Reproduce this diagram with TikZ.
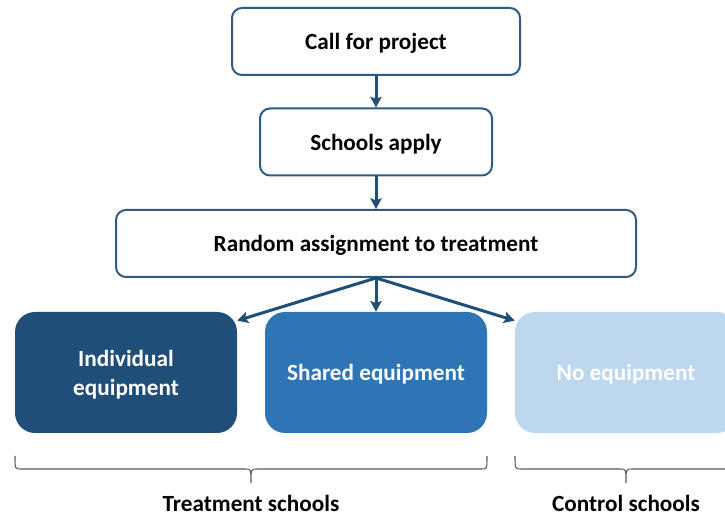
\documentclass[tikz,border=0pt]{standalone}
\usepackage{fontspec}
\setmainfont{Carlito}
\usetikzlibrary{arrows.meta}

\definecolor{navy}{HTML}{1F4E79}
\definecolor{edge}{HTML}{2E5B86}
\definecolor{midblue}{HTML}{2E75B6}
\definecolor{paleblue}{HTML}{BDD7EE}

\tikzset{
  stepbox/.style={draw=edge, line width=1.5pt, rounded corners=7.5pt, fill=white,
    minimum height=50.25pt, inner sep=0pt, text depth=0pt,
    font=\bfseries\fontsize{17.4}{21.75}\selectfont},
  groupbox/.style={rounded corners=15pt, minimum width=166.5pt, minimum height=90.75pt,
    inner sep=0pt, text depth=0pt, align=center, text=white,
    font=\bfseries\fontsize{17.4}{21.75}\selectfont},
  flow/.style={draw=navy, line width=2.25pt, -{Stealth[length=8pt,width=8.5pt,inset=1.5pt]}},
  brace/.style={draw=black!65, line width=0.8pt},
  grouplabel/.style={font=\bfseries\fontsize{17.4}{21.75}\selectfont}
}

\begin{document}
\begin{tikzpicture}[x=0.75pt, y=-0.75pt]
\useasboundingbox (0, 0) rectangle (725, 516);
\clip (0, 0) rectangle (725, 516);

\node[stepbox, minimum width=216pt] (call) at (376, 41.5) {Call for project};
\node[stepbox, minimum width=174pt] (apply) at (376, 142) {Schools apply};
\node[stepbox, minimum width=390pt] (random) at (376, 243.5) {Random assignment to treatment};

\node[groupbox, fill=navy] (indiv) at (126, 372.5) {Individual\\equipment};
\node[groupbox, fill=midblue] (shared) at (376, 372.5) {Shared equipment};
\node[groupbox, fill=paleblue] (none) at (626, 372.5) {No equipment};

\draw[flow] (call) -- (apply);
\draw[flow] (apply) -- (random);
\draw[flow] (random.south) -- (indiv.25);
\draw[flow] (random.south) -- (shared);
\draw[flow] (random.south) -- (none.155);

% braces under the groups
\foreach \l/\r/\m in {15/487/251, 515/737/626}
  \draw[brace] (\l, 456) .. controls (\l, 469) .. (\l+6, 469) -- (\m-6, 469)
    .. controls (\m, 469) .. (\m, 483) .. controls (\m, 469) .. (\m+6, 469)
    -- (\r-6, 469) .. controls (\r, 469) .. (\r, 456);

\node[grouplabel] (treat) at (251, 503) {Treatment schools};
\node[grouplabel] (control) at (626, 503) {Control schools};
\end{tikzpicture}
\end{document}
